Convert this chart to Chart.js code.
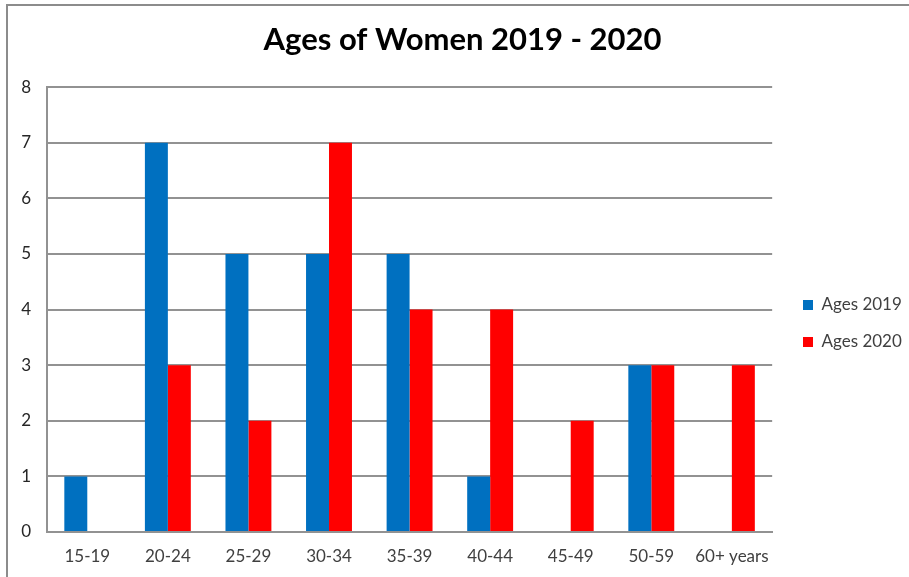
<!DOCTYPE html>
<html>
<head>
<meta charset="utf-8">
<script src="https://cdn.jsdelivr.net/npm/chart.js@4"></script>
<style>
  body { margin: 0; background: #fff; }
  #wrap { position: relative; width: 909px; height: 577px; overflow: hidden; }
  #frame { position: absolute; left: 6px; top: 4px; width: 1000px; height: 1000px; border: 2px solid #8c8c8c; }
  canvas { position: absolute; left: 0; top: 0; }
</style>
</head>
<body>
<div id="wrap">
  <div id="frame"></div>
  <canvas id="agesChart" width="909" height="577"></canvas>
</div>
<script>
// Datos del gráfico
const categorias = ['15-19', '20-24', '25-29', '30-34', '35-39', '40-44', '45-49', '50-59', '60+ years'];
const edades2019 = [1, 7, 5, 5, 5, 1, 0, 3, 0];
const edades2020 = [0, 3, 2, 7, 4, 4, 2, 3, 3];
const titulo = 'Ages of Women 2019 - 2020';

document.addEventListener('DOMContentLoaded', function () {
    const font = 'Lato, "Open Sans", sans-serif';
    const gris = '#929292';

    // coloca la leyenda y el título donde van
    const posPlugin = {
        id: 'posiciones',
        afterLayout(chart) {
            const lg = chart.legend;
            if (lg) {
                const h = lg.bottom - lg.top;
                lg.top = (647 - h) / 2;
                lg.bottom = lg.top + h;
                const w = lg.right - lg.left;
                lg.left = 783;
                lg.right = lg.left + w;
            }
            const tb = chart.titleBlock;
            if (tb) {
                tb.left += 7;
                tb.right += 7;
            }
        }
    };

    new Chart(document.getElementById('agesChart'), {
        type: 'bar',
        data: {
            labels: categorias,
            datasets: [
                { label: 'Ages 2019', data: edades2019, backgroundColor: '#0070C0' },
                { label: 'Ages 2020', data: edades2020, backgroundColor: '#FF0000' }
            ]
        },
        options: {
            responsive: false,
            animation: false,
            layout: { padding: { left: 10, right: 8, top: 0, bottom: 0 } },
            datasets: { bar: { barPercentage: 1, categoryPercentage: 0.57 } },
            plugins: {
                title: {
                    display: true,
                    text: titulo,
                    color: '#000',
                    font: { family: font, size: 31, weight: 'bold', lineHeight: 1.2 },
                    padding: { top: 21, bottom: 29 }
                },
                legend: {
                    position: 'right',
                    labels: {
                        boxWidth: 10, boxHeight: 10, padding: 20,
                        color: '#404040',
                        font: { family: font, size: 17 }
                    }
                },
                tooltip: { enabled: false }
            },
            scales: {
                x: {
                    grid: { display: false, drawTicks: false },
                    border: { display: true, color: gris, width: 2 },
                    ticks: { color: '#404040', padding: 14, font: { family: font, size: 17 }, maxRotation: 0 },
                    afterFit(scale) { scale.height = 45; }
                },
                y: {
                    min: 0, max: 8,
                    grid: { color: gris, lineWidth: 2, drawTicks: false },
                    border: { display: true, color: gris, width: 2 },
                    ticks: { stepSize: 1, color: '#262626', padding: 16, font: { family: font, size: 17 } },
                    afterFit(scale) { scale.width = 37; }
                }
            }
        },
        plugins: [posPlugin]
    });
});
</script>
</body>
</html>
